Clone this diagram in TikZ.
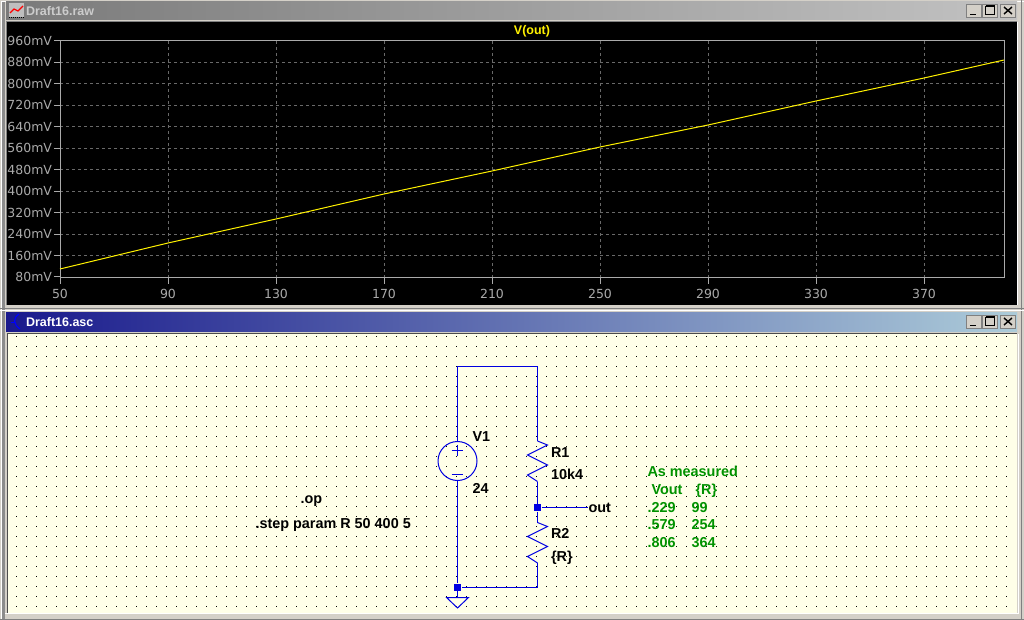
\documentclass[tikz,border=0pt]{standalone}
\usepackage{fontspec}
\setmainfont{Liberation Sans}
\newfontfamily\plotfont{DejaVu Sans}
\definecolor{panel}{RGB}{212,208,200}
\definecolor{sheet}{RGB}{255,255,232}
\definecolor{wire}{RGB}{0,0,225}
\definecolor{note}{RGB}{0,146,0}
\definecolor{axis}{RGB}{170,170,170}
\definecolor{grid}{RGB}{105,105,105}
\tikzset{
  axislabel/.style={text=axis, inner sep=0pt, font=\plotfont\fontsize{12.5}{12}\selectfont},
  label/.style={anchor=west, inner sep=0pt, text=black, text height=10pt, text depth=0pt, font=\bfseries\fontsize{14.4}{14}\selectfont},
  notelabel/.style={label, text=note},
  junction/.style={fill=wire, draw=none, minimum size=7pt, inner sep=0pt},
  winbutton/.style={fill=panel, draw=gray, line width=0.8pt}
}
\begin{document}
\begin{tikzpicture}[x=1pt,y=-1pt,line width=1pt]
\useasboundingbox (0,0) rectangle (1024,620);

% Window frames and title bars
\fill[panel] (0,0) rectangle (1024,620);
\draw[white] (1.5,620) -- (1.5,1.5) -- (1024,1.5);
\fill[black!45] (2,2) rectangle (5,620);
\draw[gray] (1021.5,0) -- (1021.5,620);
\draw[gray] (0,619) -- (1024,619);
\draw[gray] (0,308.5) -- (1024,308.5);
\draw[white] (0,310.5) -- (1024,310.5);
\shade[left color=black!52, right color=black!24, shading angle=90] (6,2) rectangle (1017,20);
\shade[left color=blue!50!black!90, right color=blue!30!cyan!25!white!70!gray, shading angle=90] (6,312) rectangle (1017,331);
\fill[black] (7,22) rectangle (1017,305);
\draw[white] (5,613.5) -- (1018,613.5) -- (1018,334);
\fill[sheet] (8,334) rectangle (1017,613);
\draw[white] (1017.5,22) -- (1017.5,305);
\draw[gray] (6.5,305) -- (6.5,22) -- (1017,22);
\draw[black!70] (7,613) -- (7,333.5) -- (1017,333.5);

% Title text and icons
\node[anchor=west, inner sep=0pt, text=black!20, font=\bfseries\fontsize{12.5}{12}\selectfont] (rawtitle) at (25.5,11) {Draft16.raw};
\node[anchor=west, inner sep=0pt, text=white, font=\bfseries\fontsize{12.5}{12}\selectfont] (asctitle) at (25.5,322) {Draft16.asc};
\fill[black!25] (9,3) rectangle (24,17);
\draw[black, densely dotted] (9,18) -- (24,18);
\draw[red, line width=1.2pt] (10,13) -- (14,9) -- (18,11) -- (23,6);
\draw[blue, line width=1.2pt] (19,314) .. controls (13,318) and (13,324) .. (20,329);
\draw[blue] (11,322) -- (15,322);

% Window buttons
\foreach \y in {4,315} {
  \draw[winbutton] (966.5,\y) rectangle (981.5,\y+13);
  \draw[winbutton] (982.5,\y) rectangle (997.5,\y+13);
  \draw[winbutton] (1000.5,\y) rectangle (1015.5,\y+13);
  \draw[black, line width=1.6pt] (970,\y+10.5) -- (976,\y+10.5);
  \draw[black] (985.5,\y+2.5) rectangle (994.5,\y+10.5);
  \draw[black, line width=1.6pt] (985.5,\y+2) -- (994.5,\y+2);
  \draw[black, line width=1.4pt] (1004,\y+3) -- (1012,\y+10) (1012,\y+3) -- (1004,\y+10);
}

% Plot grid and tick labels
\foreach \v [count=\i from 0] in {960,880,800,720,640,560,480,400,320,240,160,80} {
  \pgfmathsetmacro{\ypos}{41+\i*21.45}
  \ifnum\i>0\ifnum\i<11
    \draw[grid, dash pattern=on 3pt off 3pt] (60,\ypos) -- (1004,\ypos);
  \fi\fi
  \draw[axis] (54,\ypos) -- (60,\ypos);
  \node[axislabel, anchor=east] (ytick\v) at (52.5,\ypos) {\v mV};
}
\foreach \v [count=\i from 0] in {50,90,130,170,210,250,290,330,370} {
  \pgfmathsetmacro{\xpos}{60+\i*108}
  \ifnum\i>0
    \draw[grid, dash pattern=on 3pt off 3pt] (\xpos,41) -- (\xpos,277);
  \fi
  \draw[axis] (\xpos,277) -- (\xpos,284);
  \node[axislabel] (xtick\v) at (\xpos,293.5) {\v};
}
\draw[axis] (60,41) rectangle (1004,277);
\draw[yellow] (60,269) -- (168,243) -- (276,219) -- (384,194) -- (492,171) -- (600,147) -- (708,125) -- (816,101) -- (924,78) -- (1004,60);
\node[inner sep=0pt, text=yellow, font=\bfseries\fontsize{12.5}{12}\selectfont] (traceName) at (532,31.5) {V(out)};

% Schematic dots
\foreach \i in {0,...,99} {
  \foreach \j in {0,...,27} {
    \fill[black] (16+\i*10,336+\j*10) rectangle ++(1,1);
  }
}

% Schematic
\def\zigzag{-- ++(10,4) -- ++(-20,10) -- ++(20,10) -- ++(-20,10) -- ++(10,6.5)}
\coordinate (topL) at (457.5,366.5);
\coordinate (topR) at (537.5,366.5);
\coordinate (r1top) at (537.5,441);
\coordinate (r1bot) at (537.5,481.5);
\coordinate (r2top) at (537.5,522.5);
\coordinate (r2bot) at (537.5,563);
\coordinate (gndR) at (537.5,587);
\coordinate (gndTip) at (457.5,608);
\coordinate (gndA) at (446.5,597.5);
\coordinate (gndB) at (468.5,597.5);
\coordinate (gndTop) at (457.5,597.5);

\node[circle, draw=wire, minimum size=39pt, inner sep=0pt] (v1) at (457.5,461) {};
\node[label] (outlabel) at (588,507.5) {out};

\draw[wire] (v1.north) -- (topL) -- (topR) -- (r1top);
\draw[wire] (r1top) \zigzag;
\node[junction] (outjunc) at (537.5,507.5) {};
\node[junction] (gndjunc) at (457.5,587) {};
\draw[wire] (r1bot) -- (outjunc);
\draw[wire] (outjunc) -- (r2top);
\draw[wire] (r2top) \zigzag;
\draw[wire] (r2bot) -- (gndR) -- (gndjunc);
\draw[wire] (v1.south) -- (gndjunc);
\draw[wire] (gndjunc) -- (gndTop);
\draw[wire] (outjunc) -- (outlabel);
\draw[wire] (gndA) -- (gndB) -- (gndTip) -- cycle;
\draw[wire] (451.5,450) -- (462.5,450) (457,444.5) -- (457,455.5);
\draw[wire] (451.5,474) -- (462.5,474);

% Labels
\node[label] (v1name) at (472,436) {V1};
\node[label] (v1value) at (472,488) {24};
\node[label] (r1name) at (550.5,452) {R1};
\node[label] (r1value) at (550.5,474) {10k4};
\node[label] (r2name) at (550.5,533) {R2};
\node[label] (r2value) at (550.5,556) {\{R\}};
\node[label] (opcmd) at (300,498) {.op};
\node[label] (stepcmd) at (255,523) {.step param R 50 400 5};

% Measured values
\node[notelabel] (noteTitle) at (647,471) {As measured};
\node[notelabel] (noteVout) at (651,489) {Vout};
\node[notelabel] (noteR) at (695,489) {\{R\}};
\foreach \a/\b/\ypos in {229/99/507,579/254/524.5,806/364/542.5} {
  \node[notelabel] (vout\a) at (647,\ypos) {.\a};
  \node[notelabel] (res\b) at (691,\ypos) {\b};
}
\end{tikzpicture}
\end{document}
